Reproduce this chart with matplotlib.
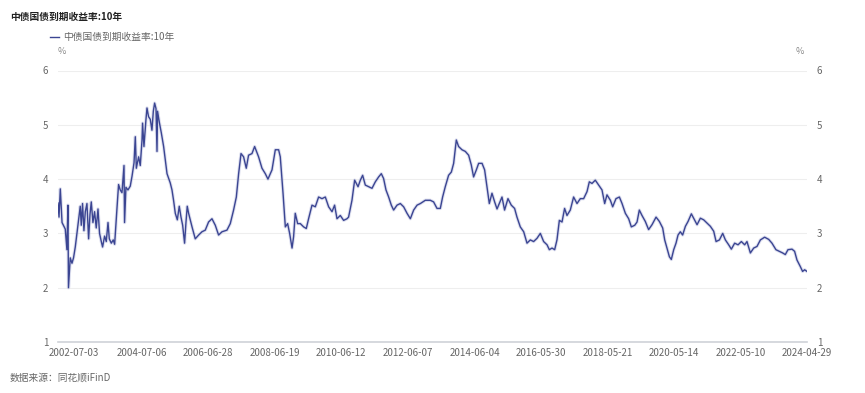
import numpy as np
import pandas as pd
import matplotlib
matplotlib.use('Agg')
from matplotlib import pyplot as plt
import matplotlib.dates as mdates


plt.rcParams['font.family'] = ['Noto Sans CJK SC', 'DejaVu Sans']

TITLE = '中债国债到期收益率:10年'
SERIES_NAME = '中债国债到期收益率:10年'
SOURCE = '数据来源：同花顺iFinD'

# values (date, yield in %)
DATES = [
  '2002-01-07', '2002-01-18', '2002-02-01', '2002-02-20', '2002-03-27', '2002-04-14',
  '2002-04-25', '2002-05-01', '2002-05-20', '2002-06-08', '2002-06-25', '2002-07-14',
  '2002-08-01', '2002-08-19', '2002-09-06', '2002-09-17', '2002-10-01', '2002-10-16',
  '2002-10-31', '2002-11-18', '2002-12-06', '2002-12-21', '2003-01-04', '2003-01-22',
  '2003-02-09', '2003-02-27', '2003-03-18', '2003-04-04', '2003-04-23', '2003-05-07',
  '2003-05-29', '2003-06-16', '2003-07-05', '2003-07-19', '2003-08-10', '2003-08-31',
  '2003-09-15', '2003-09-30', '2003-10-14', '2003-10-28', '2003-11-15', '2003-12-04',
  '2003-12-26', '2004-01-01', '2004-01-16', '2004-02-07', '2004-03-03', '2004-03-22',
  '2004-04-13', '2004-04-27', '2004-05-08', '2004-06-02', '2004-06-20', '2004-07-09',
  '2004-07-15', '2004-07-30', '2004-08-21', '2004-09-01', '2004-09-18', '2004-10-07',
  '2004-10-25', '2004-11-09', '2004-11-23', '2004-12-08', '2004-12-19', '2004-12-25',
  '2005-01-13', '2005-02-04', '2005-03-01', '2005-03-19', '2005-04-07', '2005-05-12',
  '2005-05-31', '2005-06-18', '2005-07-06', '2005-07-28', '2005-08-18', '2005-09-06',
  '2005-09-24', '2005-10-15', '2005-10-30', '2005-11-13', '2005-11-28', '2006-01-04',
  '2006-02-08', '2006-03-17', '2006-04-22', '2006-05-28', '2006-07-03', '2006-08-09',
  '2006-09-14', '2006-10-20', '2006-11-26', '2007-01-19', '2007-02-24', '2007-04-01',
  '2007-05-01', '2007-05-26', '2007-06-21', '2007-07-19', '2007-08-17', '2007-09-11',
  '2007-10-18', '2007-11-16', '2007-12-29', '2008-02-04', '2008-03-11', '2008-04-09',
  '2008-05-23', '2008-06-28', '2008-08-03', '2008-08-21', '2008-09-20', '2008-10-15',
  '2008-11-09', '2008-12-01', '2008-12-27', '2009-01-13', '2009-01-31', '2009-02-26',
  '2009-03-27', '2009-05-02', '2009-05-31', '2009-06-25', '2009-08-01', '2009-09-06',
  '2009-10-12', '2009-11-18', '2009-12-24', '2010-01-29', '2010-03-07', '2010-04-04',
  '2010-04-30', '2010-06-05', '2010-07-11', '2010-08-17', '2010-09-03', '2010-10-10',
  '2010-11-08', '2010-12-15', '2011-01-09', '2011-02-03', '2011-03-04', '2011-04-09',
  '2011-05-16', '2011-06-21', '2011-07-27', '2011-08-25', '2011-09-19', '2011-10-15',
  '2011-11-13', '2011-12-12', '2012-01-06', '2012-02-12', '2012-03-19', '2012-04-24',
  '2012-05-31', '2012-07-06', '2012-08-11', '2012-09-17', '2012-10-23', '2012-12-16',
  '2013-02-08', '2013-03-16', '2013-04-22', '2013-05-28', '2013-06-22', '2013-07-21',
  '2013-08-26', '2013-09-25', '2013-10-20', '2013-11-18', '2013-12-13', '2014-01-19',
  '2014-02-24', '2014-04-01', '2014-04-30', '2014-05-25', '2014-06-24', '2014-07-19',
  '2014-08-25', '2014-09-22', '2014-10-18', '2014-11-12', '2014-12-11', '2015-01-09',
  '2015-02-04', '2015-03-30', '2015-04-27', '2015-06-03', '2015-07-09', '2015-08-14',
  '2015-09-09', '2015-10-15', '2015-11-21', '2015-12-27', '2016-02-01', '2016-03-08',
  '2016-04-14', '2016-05-20', '2016-06-25', '2016-08-01', '2016-08-26', '2016-09-24',
  '2016-10-23', '2016-11-17', '2016-12-13', '2017-01-11', '2017-02-08', '2017-03-06',
  '2017-04-11', '2017-05-17', '2017-06-23', '2017-07-29', '2017-09-03', '2017-10-10',
  '2017-11-04', '2017-12-03', '2018-01-08', '2018-02-13', '2018-03-22', '2018-04-20',
  '2018-05-15', '2018-06-21', '2018-07-16', '2018-08-21', '2018-09-27', '2018-10-26',
  '2018-12-01', '2019-01-06', '2019-02-04', '2019-03-13', '2019-04-07', '2019-05-02',
  '2019-05-31', '2019-07-06', '2019-08-11', '2019-09-17', '2019-10-31', '2019-12-06',
  '2020-01-11', '2020-02-02', '2020-02-27', '2020-03-24', '2020-04-14', '2020-05-10',
  '2020-06-04', '2020-06-26', '2020-07-21', '2020-08-15', '2020-09-14', '2020-10-13',
  '2020-11-18', '2020-12-13', '2021-01-19', '2021-02-24', '2021-04-01', '2021-05-08',
  '2021-06-13', '2021-07-19', '2021-08-14', '2021-09-19', '2021-10-25', '2021-11-23',
  '2021-12-29', '2022-01-27', '2022-03-04', '2022-04-10', '2022-05-16', '2022-06-21',
  '2022-07-16', '2022-08-22', '2022-09-27', '2022-11-02', '2022-12-09', '2023-01-24',
  '2023-03-09', '2023-04-14', '2023-05-27', '2023-07-03', '2023-08-08', '2023-09-06',
  '2023-10-05', '2023-11-18', '2023-12-16', '2024-01-11', '2024-02-16', '2024-03-12',
  '2024-04-03', '2024-04-29',
]

YIELDS = [
  3.56, 3.30, 3.82, 3.20, 3.08, 2.70,
  3.52, 2.00, 2.55, 2.45, 2.55, 2.75,
  3.00, 3.25, 3.50, 3.15, 3.55, 3.05,
  3.40, 3.55, 2.90, 3.35, 3.58, 3.20,
  3.40, 3.10, 3.45, 3.00, 2.85, 2.75,
  2.95, 2.85, 3.20, 2.90, 2.82, 2.88,
  2.80, 3.20, 3.55, 3.90, 3.80, 3.75,
  4.25, 3.20, 3.85, 3.80, 3.87, 4.05,
  4.30, 4.78, 4.20, 4.41, 4.25, 4.72,
  5.03, 4.60, 5.10, 5.31, 5.15, 5.10,
  4.90, 5.25, 5.40, 5.30, 4.51, 5.25,
  5.05, 4.85, 4.60, 4.35, 4.10, 3.93,
  3.80, 3.60, 3.37, 3.25, 3.50, 3.30,
  3.15, 2.82, 3.20, 3.50, 3.37, 3.12,
  2.90, 2.97, 3.03, 3.06, 3.21, 3.27,
  3.15, 2.97, 3.03, 3.06, 3.18, 3.43,
  3.67, 4.10, 4.47, 4.41, 4.20, 4.44,
  4.47, 4.60, 4.41, 4.20, 4.10, 4.00,
  4.17, 4.54, 4.54, 4.41, 3.74, 3.12,
  3.18, 3.00, 2.73, 2.94, 3.37, 3.18,
  3.18, 3.12, 3.09, 3.27, 3.52, 3.49,
  3.67, 3.64, 3.67, 3.49, 3.40, 3.52,
  3.27, 3.33, 3.24, 3.27, 3.30, 3.61,
  3.98, 3.86, 3.98, 4.07, 3.89, 3.86,
  3.83, 3.95, 4.04, 4.10, 4.01, 3.80,
  3.67, 3.52, 3.43, 3.52, 3.55, 3.49,
  3.37, 3.27, 3.43, 3.52, 3.55, 3.61,
  3.61, 3.58, 3.46, 3.46, 3.67, 3.86,
  4.07, 4.13, 4.29, 4.72, 4.60, 4.54,
  4.51, 4.44, 4.26, 4.04, 4.17, 4.29,
  4.29, 4.17, 3.86, 3.55, 3.74, 3.58,
  3.45, 3.67, 3.43, 3.64, 3.52, 3.46,
  3.30, 3.12, 3.03, 2.82, 2.88, 2.85,
  2.91, 3.00, 2.85, 2.79, 2.70, 2.73,
  2.70, 2.88, 3.24, 3.21, 3.46, 3.33,
  3.43, 3.67, 3.55, 3.64, 3.64, 3.77,
  3.95, 3.92, 3.98, 3.89, 3.80, 3.55,
  3.71, 3.61, 3.49, 3.64, 3.67, 3.55,
  3.37, 3.27, 3.12, 3.15, 3.21, 3.43,
  3.33, 3.22, 3.07, 3.16, 3.30, 3.22,
  3.10, 2.88, 2.73, 2.57, 2.52, 2.70,
  2.82, 2.97, 3.03, 2.97, 3.13, 3.22,
  3.36, 3.28, 3.16, 3.28, 3.25, 3.19,
  3.13, 3.04, 2.85, 2.88, 3.00, 2.88,
  2.79, 2.71, 2.82, 2.79, 2.85, 2.79,
  2.85, 2.64, 2.73, 2.76, 2.88, 2.93,
  2.89, 2.82, 2.70, 2.67, 2.64, 2.61,
  2.70, 2.71, 2.67, 2.51, 2.39, 2.30,
  2.33, 2.30,
]

TICK_DATES = [
  '2002-07-03', '2004-07-06', '2006-06-28', '2008-06-19', '2010-06-12', '2012-06-07',
  '2014-06-04', '2016-05-30', '2018-05-21', '2020-05-14', '2022-05-10', '2024-04-29',
]
Y_TICKS = [1, 2, 3, 4, 5, 6]

LINE_COLOR = '#3b4592'
TEXT_COLOR = '#666666'

dates = pd.to_datetime(DATES)
ticks = pd.to_datetime(TICK_DATES)

W, H = 865, 393
fig = plt.figure(figsize=(W / 100, H / 100), dpi=100)
fig.patch.set_facecolor('white')

# plot area in pixels: x 58..807, y 70.5..342
ax = fig.add_axes([58 / W, 1 - 342 / H, (807 - 58) / W, (342 - 70.5) / H])

# soft halo under the line, then the line itself
ax.plot(dates, YIELDS, color='#aab0d8', lw=2.4, alpha=0.4, solid_joinstyle='round')
ax.plot(dates, YIELDS, color=LINE_COLOR, lw=1.0, label=SERIES_NAME, solid_joinstyle='round')

ax.set_xlim(dates[0], dates[-1])
ax.set_ylim(1, 6)

ax.set_yticks(Y_TICKS)
ax.set_xticks(ticks)
ax.set_xticklabels(TICK_DATES)
ax.grid(axis='y', color='#eeeeee', lw=0.8)
ax.set_axisbelow(True)

for side in ['top', 'left', 'right']:
  ax.spines[side].set_visible(False)
ax.spines['bottom'].set_color('#cfd2d8')
ax.spines['bottom'].set_linewidth(1.2)

ax.tick_params(axis='both', length=0, colors=TEXT_COLOR, labelsize=7)
ax.tick_params(axis='x', pad=4)
ax.tick_params(axis='y', pad=7)

# mirrored y labels on the right
ax2 = ax.twinx()
ax2.set_ylim(1, 6)
ax2.set_yticks(Y_TICKS)
for side in ['top', 'left', 'right', 'bottom']:
  ax2.spines[side].set_visible(False)
ax2.tick_params(axis='y', length=0, colors=TEXT_COLOR, labelsize=7, pad=7)

# titles, legend, units and source
fig.text(10 / W, 1 - 17 / H, TITLE, fontsize=7, fontweight='bold', color='#222222', va='center')
fig.legend(loc='center left', bbox_to_anchor=(41 / W, 1 - 37 / H), frameon=False,
           fontsize=7, handlelength=1.0, handletextpad=0.4, labelcolor=TEXT_COLOR)
fig.text(62 / W, 1 - 52 / H, '%', fontsize=6.5, color='#888888', ha='center', va='center')
fig.text(800 / W, 1 - 52 / H, '%', fontsize=6.5, color='#888888', ha='center', va='center')
fig.text(10 / W, 1 - 378 / H, SOURCE, fontsize=7, color=TEXT_COLOR, va='center')

fig.savefig('out.png', dpi=100, facecolor='white')
